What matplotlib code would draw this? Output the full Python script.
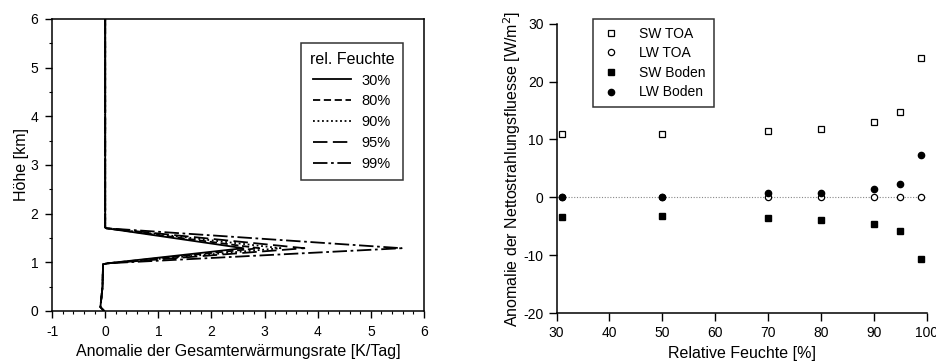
import matplotlib
matplotlib.use("Agg")
import matplotlib.pyplot as plt
from matplotlib.ticker import MultipleLocator

plt.rcParams['font.family'] = ['Liberation Sans', 'DejaVu Sans']
plt.rcParams['axes.unicode_minus'] = False

# ---- Left panel data: heating-rate anomaly profiles ----
humidity_labels = ["30%", "80%", "90%", "95%", "99%"]
profile_height = [6.0, 1.72, 1.70, 1.29, 0.98, 0.96, 0.5, 0.08, 0.0]
peak_values = [2.6, 2.9, 3.3, 3.75, 5.58]
profile_x = [[0.0, 0.0, 0.02, p, 0.05, -0.04, -0.05, -0.09, -0.02] for p in peak_values]
line_styles = ["-", (0, (4, 2)), (0, (1, 1.5)), (0, (8, 3)), (0, (8, 2, 1.5, 2))]

# ---- Right panel data: net radiative flux anomalies ----
rel_humidity = [31, 50, 70, 80, 90, 95, 99]
sw_toa = [11.0, 11.0, 11.4, 11.85, 12.95, 14.8, 24.0]
lw_toa = [0.0, 0.0, 0.0, 0.0, 0.1, 0.1, 0.1]
sw_boden = [-3.35, -3.3, -3.5, -3.9, -4.6, -5.8, -10.75]
lw_boden = [0.0, 0.0, 0.7, 0.75, 1.45, 2.25, 7.3]

fig = plt.figure(figsize=(9.36, 3.63), dpi=100)

# Left panel
ax1 = fig.add_axes([0.0556, 0.1433, 0.3974, 0.8044])
for xs, lbl, ls in zip(profile_x, humidity_labels, line_styles):
    ax1.plot(xs, profile_height, color='black', lw=1.3, linestyle=ls, label=lbl)
ax1.set_xlim(-1, 6)
ax1.set_ylim(0, 6)
ax1.xaxis.set_major_locator(MultipleLocator(1))
ax1.xaxis.set_minor_locator(MultipleLocator(0.2))
ax1.yaxis.set_major_locator(MultipleLocator(1))
ax1.yaxis.set_minor_locator(MultipleLocator(0.5))
ax1.tick_params(which='major', direction='out', length=5, width=1, labelsize=10, pad=5)
ax1.tick_params(which='minor', direction='out', length=2.5, width=0.8)
ax1.tick_params(top=False, right=False)
for s in ax1.spines.values():
    s.set_linewidth(1.1)
ax1.set_xlabel("Anomalie der Gesamterwärmungsrate [K/Tag]", fontsize=11.5, labelpad=4)
ax1.set_ylabel("Höhe [km]", fontsize=11.5, labelpad=1)
leg1 = ax1.legend(title="rel. Feuchte", loc='upper right', bbox_to_anchor=(0.9435, 0.918),
                  borderaxespad=0, fontsize=10.5, title_fontsize=11.5, frameon=True,
                  fancybox=False, edgecolor='black', handlelength=2.6, borderpad=0.6,
                  labelspacing=0.47, handletextpad=0.7)
leg1.get_frame().set_linewidth(1.1)

# Right panel
ax2 = fig.add_axes([0.5947, 0.1377, 0.3953, 0.7970])
ax2.axhline(0, color='#888888', lw=0.8, linestyle=(0, (1, 1.5)), zorder=0)
ax2.plot(rel_humidity, sw_toa, linestyle='none', marker='s', ms=4.5, mfc='white', mec='black', mew=0.9, label='SW TOA')
ax2.plot(rel_humidity, lw_toa, linestyle='none', marker='o', ms=4.5, mfc='white', mec='black', mew=0.9, label='LW TOA')
ax2.plot(rel_humidity, sw_boden, linestyle='none', marker='s', ms=4.5, mfc='black', mec='black', label='SW Boden')
ax2.plot(rel_humidity, lw_boden, linestyle='none', marker='o', ms=4.5, mfc='black', mec='black', label='LW Boden')
ax2.set_xlim(30, 100)
ax2.set_ylim(-20, 30)
ax2.xaxis.set_major_locator(MultipleLocator(10))
ax2.yaxis.set_major_locator(MultipleLocator(10))
ax2.spines['top'].set_visible(False)
ax2.spines['right'].set_visible(False)
for s in ('left', 'bottom'):
    ax2.spines[s].set_linewidth(1.1)
ax2.tick_params(direction='out', length=5.5, width=1, labelsize=10, pad=4)
ax2.set_xlabel("Relative Feuchte [%]", fontsize=11.5, labelpad=4)
ax2.set_ylabel("Anomalie der Nettostrahlungsfluesse [W/m$^2$]", fontsize=11.5, labelpad=0)
leg2 = ax2.legend(loc='upper left', bbox_to_anchor=(0.098, 1.016), borderaxespad=0,
                  fontsize=10, frameon=True, fancybox=False, edgecolor='black',
                  handlelength=1.5, borderpad=0.55, labelspacing=0.4, handletextpad=1.3)
leg2.get_frame().set_linewidth(1.1)

fig.savefig("out.png", dpi=100)
